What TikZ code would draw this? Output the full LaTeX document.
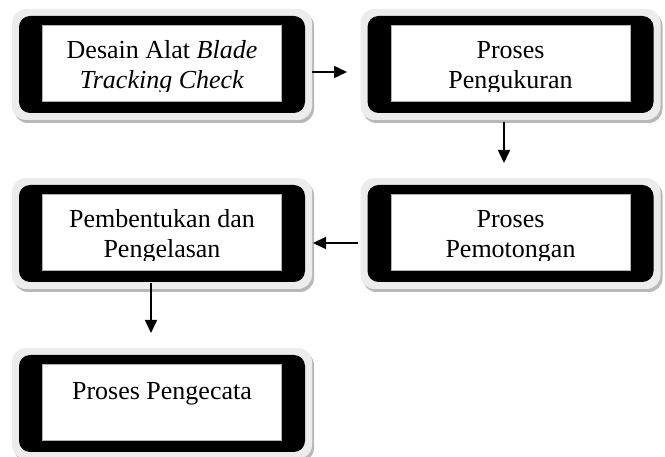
\documentclass[tikz,border=0pt]{standalone}
\usepackage{fontspec}
\setmainfont{Liberation Serif}
\usetikzlibrary{arrows.meta}
\definecolor{framegray}{HTML}{ECECEC}
\definecolor{shadegray}{HTML}{B8B8B8}
\tikzset{
  blackbox/.style={fill=black, rounded corners=11pt, minimum width=286pt, minimum height=97pt, inner sep=0pt, outer sep=0pt},
  arr/.style={line width=1.6pt, -{Triangle[length=13pt,width=12pt]}},
  lbl/.style={font=\fontsize{26}{30}\selectfont, inner sep=0pt, anchor=base},
  framefill/.style={fill=framegray, rounded corners=14pt},
  shadefill/.style={fill=shadegray, rounded corners=14pt},
  whitefill/.style={fill=white, draw=gray!60, line width=0.6pt},
}
% #1 name, #2 cx, #3 cy
\newcommand\procframe[3]{%
  \fill[shadefill] (#2-150+2,#3-55.5+3) rectangle (#2+150+2,#3+55.5+3);
  \fill[framefill] (#2-150,#3-55.5) rectangle (#2+150,#3+55.5);
  \node[blackbox] (#1) at (#2,#3) {};
  \filldraw[whitefill] (#2-119.5,#3-39.5) rectangle (#2+119.5,#3+36.5);
}
\begin{document}
\begin{tikzpicture}[x=1pt,y=-1pt]
\useasboundingbox (0,0) rectangle (665,457);

% Box 1
\procframe{b1}{162}{64.5}
\begin{scope}
  \clip (162-119.5,64.5-39.5) rectangle (162+119.5,64.5+27.5);
  \node[lbl] (t1a) at (162,64.5-5.5) {Desain Alat \textit{Blade}};
  \node[lbl] (t1b) at (162,64.5+24.5) {\textit{Tracking Check}};
\end{scope}

% Box 2
\procframe{b2}{510.5}{64.5}
\begin{scope}
  \clip (510.5-119.5,64.5-39.5) rectangle (510.5+119.5,64.5+27.5);
  \node[lbl] (t2a) at (510.5,64.5-5.5) {Proses};
  \node[lbl] (t2b) at (510.5,64.5+24.5) {Pengukuran};
\end{scope}

% Box 3
\procframe{b3}{510.5}{233.5}
\begin{scope}
  \clip (510.5-119.5,233.5-39.5) rectangle (510.5+119.5,233.5+27.5);
  \node[lbl] (t3a) at (510.5,233.5-5.5) {Proses};
  \node[lbl] (t3b) at (510.5,233.5+24.5) {Pemotongan};
\end{scope}

% Box 4
\procframe{b4}{162}{233.5}
\begin{scope}
  \clip (162-119.5,233.5-39.5) rectangle (162+119.5,233.5+27.5);
  \node[lbl] (t4a) at (162,233.5-5.5) {Pembentukan dan};
  \node[lbl] (t4b) at (162,233.5+24.5) {Pengelasan};
\end{scope}

% Box 5
\procframe{b5}{162}{403.5}
\node[lbl] (t5) at (162,403.5-4) {Proses Pengecata};

% Arrows
\draw[arr] ([shift={(7,7.5)}]b1.east) -- ([shift={(-20.5,7.5)}]b2.west);
\draw[arr] ([shift={(-6.5,9)}]b2.south) -- ([shift={(-6.5,-22)}]b3.north);
\draw[arr] ([shift={(-9.5,9.5)}]b3.west) -- ([shift={(8,9.5)}]b4.east);
\draw[arr] ([shift={(-11,1)}]b4.south) -- ([shift={(-11,-22)}]b5.north);
\end{tikzpicture}
\end{document}
